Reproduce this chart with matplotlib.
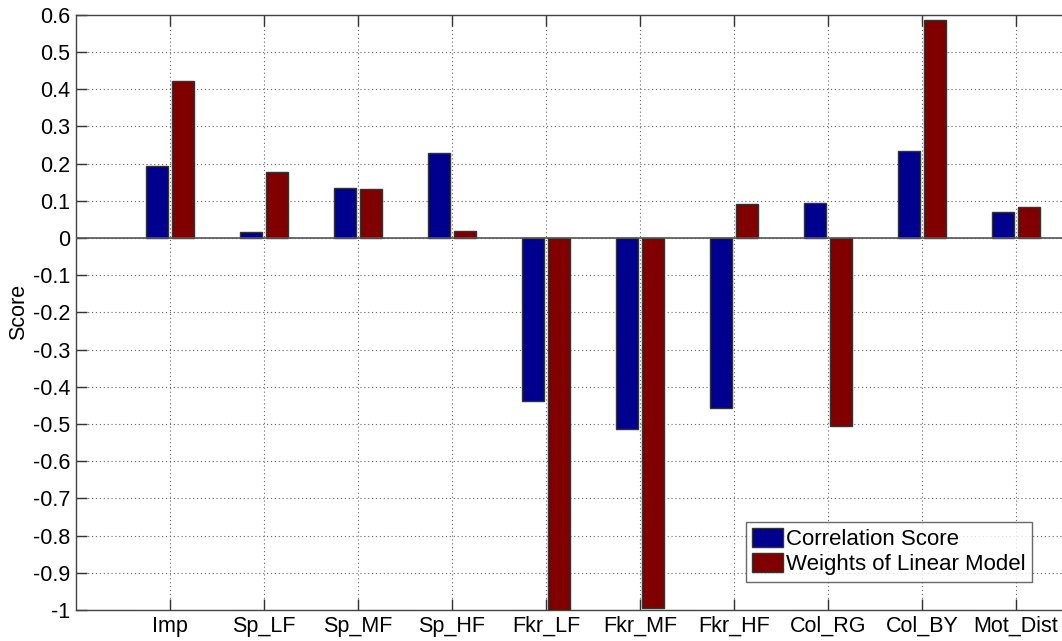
import numpy as np
import matplotlib
matplotlib.use('Agg')
import matplotlib.pyplot as plt
from matplotlib.patches import Patch

plt.rcParams['font.family'] = ['Liberation Sans', 'DejaVu Sans']

features = ['Imp', 'Sp_LF', 'Sp_MF', 'Sp_HF', 'Fkr_LF', 'Fkr_MF',
            'Fkr_HF', 'Col_RG', 'Col_BY', 'Mot_Dist']
corr_score = [0.194, 0.017, 0.134, 0.228, -0.438, -0.513,
              -0.458, 0.094, 0.233, 0.069]
lin_weights = [0.421, 0.176, 0.131, 0.019, -1.03, -0.995,
               0.090, -0.505, 0.586, 0.083]
y_ticks = np.round(np.arange(-1.0, 0.61, 0.1), 1)
y_ticklabels = ['-1' if v == -1 else ('0' if v == 0 else '%g' % v) for v in y_ticks]

blue = '#00008f'
red = '#800000'

fig = plt.figure(figsize=(10.62, 6.41), dpi=100)
ax = fig.add_axes([76 / 1062, 31 / 641, (1110 - 76) / 1062, (610 - 14.7) / 641])

x = np.arange(1, len(features) + 1)
w = 0.225
ax.bar(x - 0.138, corr_score, w, color=blue, edgecolor='#333333', linewidth=1.0, zorder=3)
ax.bar(x + 0.138, lin_weights, w, color=red, edgecolor='#333333', linewidth=1.0, zorder=3)
ax.axhline(0, color='#555555', linewidth=1.2, zorder=4)

ax.set_xlim(0, 11)
ax.set_ylim(-1, 0.6)
ax.set_xticks(x)
ax.set_xticklabels(features, fontsize=15.5)
ax.set_yticks(y_ticks)
ax.set_yticklabels(y_ticklabels, fontsize=15.5)
ax.tick_params(direction='in', length=8, width=1.0, color='#333333',
               top=True, right=True, pad=4)
ax.grid(True, linestyle=(0, (1, 2.5)), color='#666666', linewidth=0.8, zorder=0)
for s in ax.spines.values():
    s.set_color('#444444')
    s.set_linewidth(1.0)

ax.set_ylabel('Score', fontsize=15.5, labelpad=3)

handles = [Patch(facecolor=blue, edgecolor='#333333', label='Correlation Score'),
           Patch(facecolor=red, edgecolor='#333333', label='Weights of Linear Model')]
fig.legend(handles=handles, loc='lower right', bbox_to_anchor=(1032 / 1062, (641 - 582) / 641),
           fontsize=16, frameon=True, fancybox=False, edgecolor='#444444',
           handlelength=1.4, handleheight=0.95, handletextpad=0.1,
           borderpad=0.3, labelspacing=0.12, borderaxespad=0)

fig.savefig('out.png', dpi=100)
